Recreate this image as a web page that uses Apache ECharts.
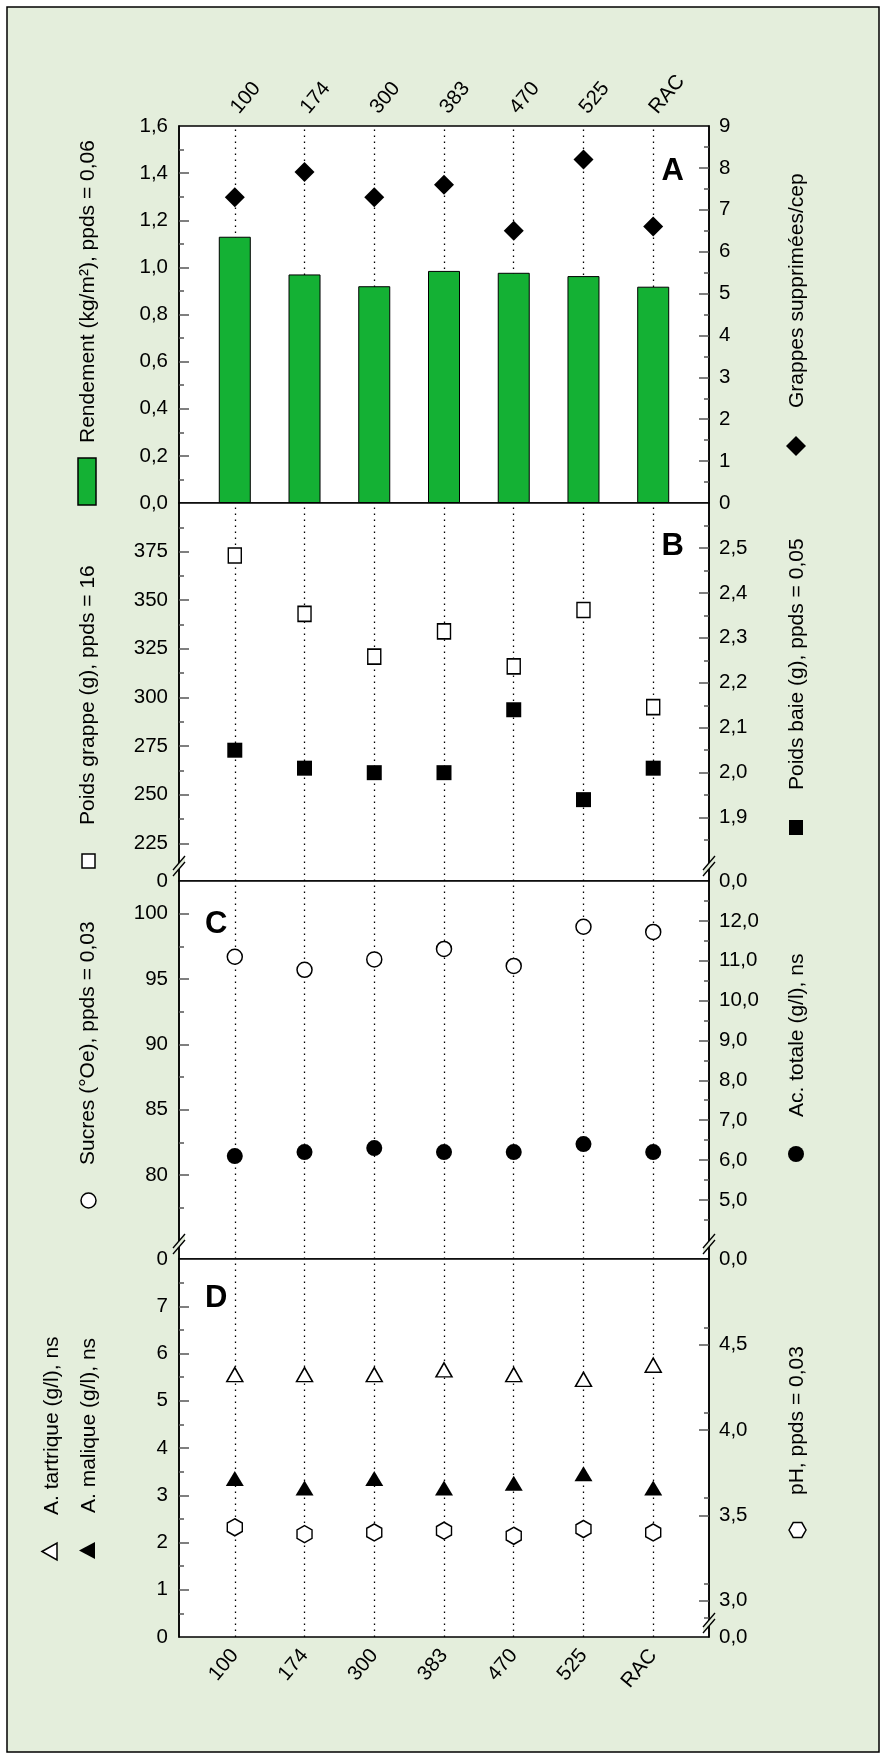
<!DOCTYPE html>
<html><head><meta charset="utf-8">
<script src="https://cdn.jsdelivr.net/npm/echarts@6/dist/echarts.min.js"></script>
<style>html,body{margin:0;padding:0;background:#fff}#c{width:887px;height:1758px}</style>
</head><body><div id="c"></div>
<script>
// ---------------- data ----------------
const categories = ['100', '174', '300', '383', '470', '525', 'RAC'];
const rendement = [1.13, 0.97, 0.92, 0.985, 0.977, 0.963, 0.918];
const grappesSupprimees = [7.3, 7.9, 7.3, 7.6, 6.5, 8.2, 6.6];
const poidsGrappe = [373, 343, 321, 334, 316, 345, 295];
const poidsBaie = [2.05, 2.01, 2.00, 2.00, 2.14, 1.94, 2.01];
const sucres = [96.7, 95.7, 96.5, 97.3, 96.0, 99.0, 98.6];
const acTotale = [6.1, 6.2, 6.3, 6.2, 6.2, 6.4, 6.2];
const tartrique = [5.5, 5.5, 5.5, 5.6, 5.5, 5.4, 5.7];
const malique = [3.3, 3.1, 3.3, 3.1, 3.2, 3.4, 3.1];
const pH = [3.43, 3.39, 3.40, 3.41, 3.38, 3.42, 3.40];

// tick values
const tickA_L = [0, 0.2, 0.4, 0.6, 0.8, 1.0, 1.2, 1.4, 1.6];
const tickA_R = [0, 1, 2, 3, 4, 5, 6, 7, 8, 9];
const tickB_L = [225, 250, 275, 300, 325, 350, 375];
const tickB_R = [1.9, 2.0, 2.1, 2.2, 2.3, 2.4, 2.5];
const tickC_L = [80, 85, 90, 95, 100];
const tickC_R = [5, 6, 7, 8, 9, 10, 11, 12];
const tickD_L = [0, 1, 2, 3, 4, 5, 6, 7];
const tickD_R = [3.0, 3.5, 4.0, 4.5];

// axis extents (broken axes: bottom of panel labelled 0)
const rangeA_L = [0, 1.6], rangeA_R = [0, 9];
const rangeB_L = [205.6, 400], rangeB_R = [1.759, 2.6];
const rangeC_L = [73.57, 102.5], rangeC_R = [3.517, 13];
const rangeD_L = [0, 8], rangeD_R = [2.788, 5];

// ---------------- layout ----------------
const FONT = '"Liberation Sans", Arial, Helvetica, sans-serif';
const LABEL_SIZE = 20.5;
const GL = 179, GW = 530;
const tops = [126, 503, 881, 1259];
const heights = [377, 378, 378, 378];
const xs = categories.map((_, i) => i + 1);
const pairs = arr => arr.map((v, i) => [xs[i], v]);

function minorsOf(majors, step, lo, hi) {
  const out = [];
  const all = [majors[0] - step].concat(majors.map(v => v + step));
  all.forEach(v => { if (v > lo + 1e-9 && v < hi - 1e-9) out.push(+v.toFixed(4)); });
  return out;
}
function fmt(dec, zeroAt) {
  return v => {
    if (zeroAt !== null && Math.abs(v - zeroAt) < 1e-6) return dec ? '0,0' : '0';
    return v.toFixed(dec).replace('.', ',');
  };
}
const yAxes = [];
function addY(g, pos, range, majors, minorStep, dec, broken) {
  const lo = range[0], hi = range[1];
  const labels = broken ? [lo].concat(majors) : majors;
  const tickVals = majors.filter(v => v > lo + 1e-9 && v < hi - 1e-9);
  yAxes.push({
    type: 'value', gridIndex: g, position: pos, min: lo, max: hi,
    axisLine: { show: true, lineStyle: { color: '#000', width: 1.5 } },
    axisTick: { show: true, inside: true, length: 10, customValues: tickVals, lineStyle: { color: '#555', width: 1.5 } },
    axisLabel: { show: true, customValues: labels, formatter: fmt(dec, broken ? lo : null), margin: pos === 'left' ? 11 : 10,
      fontSize: LABEL_SIZE, color: '#000', fontFamily: FONT },
    splitLine: { show: false }
  });
  yAxes.push({
    type: 'value', gridIndex: g, position: pos, min: lo, max: hi,
    axisLine: { show: false },
    axisTick: { show: true, inside: true, length: 5, customValues: minorsOf(majors, minorStep, broken ? lo + (hi - lo) * 0.05 : lo, hi), lineStyle: { color: '#555', width: 1.5 } },
    axisLabel: { show: false }, splitLine: { show: false }
  });
}
addY(0, 'left', rangeA_L, tickA_L, 0.1, 1, false);
addY(0, 'right', rangeA_R, tickA_R, 0.5, 0, false);
addY(1, 'left', rangeB_L, tickB_L, 12.5, 0, true);
addY(1, 'right', rangeB_R, tickB_R, 0.05, 1, true);
addY(2, 'left', rangeC_L, tickC_L, 2.5, 0, true);
addY(2, 'right', rangeC_R, tickC_R, 0.5, 1, true);
addY(3, 'left', rangeD_L, tickD_L, 0.5, 0, false);
addY(3, 'right', rangeD_R, tickD_R, 0.1, 1, true);

const grids = tops.map((t, i) => ({
  left: GL, width: GW, top: t, height: heights[i], show: true,
  backgroundColor: '#fff', borderColor: '#000', borderWidth: 1.5
}));
const xAxes = tops.map((t, i) => ({
  type: 'value', gridIndex: i, min: 0.2, max: 7.8,
  position: i === 0 ? 'top' : 'bottom',
  axisLine: { show: false }, axisTick: { show: false }, splitLine: { show: false },
  axisLabel: (i === 0 || i === 3) ? {
    show: true, customValues: xs, formatter: v => categories[Math.round(v) - 1],
    rotate: 50, margin: 15, fontSize: LABEL_SIZE, color: '#000', fontFamily: FONT
  } : { show: false }
}));

const dotted = {
  z: 1, silent: true, symbol: ['none', 'none'], label: { show: false }, animation: false,
  lineStyle: { type: [1.6, 4.4], color: '#000', width: 1.3 },
  emphasis: { disabled: true },
  data: xs.map(x => ({ xAxis: x }))
};
const hollow = { color: '#fff', borderColor: '#000', borderWidth: 1.5, opacity: 1 };
const solid = { color: '#000', opacity: 1 };
const hexPath = 'path://M0,-10L8.66,-5L8.66,5L0,10L-8.66,5L-8.66,-5Z';

const series = [
  { type: 'bar', xAxisIndex: 0, yAxisIndex: 0, data: pairs(rendement), barWidth: 32, z: 2,
    itemStyle: { color: '#14b134', borderColor: '#000', borderWidth: 1 }, markLine: dotted },
  { type: 'scatter', xAxisIndex: 0, yAxisIndex: 2, data: pairs(grappesSupprimees), symbol: 'diamond', symbolSize: [20, 20], itemStyle: solid, z: 3 },
  { type: 'scatter', xAxisIndex: 1, yAxisIndex: 4, data: pairs(poidsGrappe), symbol: 'rect', symbolSize: [13, 15], itemStyle: hollow, z: 3, markLine: dotted },
  { type: 'scatter', xAxisIndex: 1, yAxisIndex: 6, data: pairs(poidsBaie), symbol: 'rect', symbolSize: [15, 15], itemStyle: solid, z: 3 },
  { type: 'scatter', xAxisIndex: 2, yAxisIndex: 8, data: pairs(sucres), symbol: 'circle', symbolSize: 15, itemStyle: hollow, z: 3, markLine: dotted },
  { type: 'scatter', xAxisIndex: 2, yAxisIndex: 10, data: pairs(acTotale), symbol: 'circle', symbolSize: 16, itemStyle: solid, z: 3 },
  { type: 'scatter', xAxisIndex: 3, yAxisIndex: 12, data: pairs(tartrique), symbol: 'triangle', symbolSize: [16, 14], symbolOffset: [0, -2.5], itemStyle: hollow, z: 3, markLine: dotted },
  { type: 'scatter', xAxisIndex: 3, yAxisIndex: 12, data: pairs(malique), symbol: 'triangle', symbolSize: [18, 15], symbolOffset: [0, -2.5], itemStyle: solid, z: 3 },
  { type: 'scatter', xAxisIndex: 3, yAxisIndex: 14, data: pairs(pH), symbol: hexPath, symbolSize: [15, 17], itemStyle: hollow, z: 3 }
];

// ---------------- decorations ----------------
const TXT = '21px ' + FONT;
function vtext(x, y, text) {
  return { type: 'text', x: x, y: y, rotation: Math.PI / 2, z: 10,
    style: { text: text, fill: '#000', font: TXT, align: 'left', verticalAlign: 'middle' } };
}
function letter(x, y, t, align) {
  return { type: 'text', x: x, y: y, z: 10,
    style: { text: t, fill: '#000', font: 'bold 31px ' + FONT, align: align, verticalAlign: 'top' } };
}
function brk(cx, cy) {
  const st = { stroke: '#000', lineWidth: 1.3 };
  return [
    { type: 'polygon', z: 9, shape: { points: [[cx - 6, cy + 4], [cx + 6, cy - 10], [cx + 6, cy - 4], [cx - 6, cy + 10]] }, style: { fill: '#e4eedc' } },
    { type: 'line', z: 10, shape: { x1: cx - 6, y1: cy + 4, x2: cx + 6, y2: cy - 10 }, style: st },
    { type: 'line', z: 10, shape: { x1: cx - 6, y1: cy + 10, x2: cx + 6, y2: cy - 4 }, style: st }
  ];
}
const GR = GL + GW;
const bottoms = tops.map((t, i) => t + heights[i]);
const LX = 88, RX = 797.5;
const graphics = [
  { type: 'rect', z: -10, shape: { x: 7, y: 7, width: 872, height: 1745 }, style: { fill: '#e4eedc', stroke: '#000', lineWidth: 1.5 } },
  // panel A
  vtext(LX, 443, 'Rendement (kg/m²), ppds = 0,06'),
  { type: 'rect', z: 10, shape: { x: 78, y: 458, width: 18, height: 47 }, style: { fill: '#14b134', stroke: '#000', lineWidth: 1.5 } },
  vtext(RX, 408, 'Grappes supprimées/cep'),
  { type: 'polygon', z: 10, shape: { points: [[796, 436], [806, 446], [796, 456], [786, 446]] }, style: { fill: '#000' } },
  // panel B
  vtext(LX, 825, 'Poids grappe (g), ppds = 16'),
  { type: 'rect', z: 10, shape: { x: 82, y: 854, width: 13, height: 14 }, style: { fill: '#fff', stroke: '#000', lineWidth: 1.5 } },
  vtext(RX, 790, 'Poids baie (g), ppds = 0,05'),
  { type: 'rect', z: 10, shape: { x: 789, y: 820, width: 14, height: 15 }, style: { fill: '#000' } },
  // panel C
  vtext(LX, 1165, 'Sucres (°Oe), ppds = 0,03'),
  { type: 'circle', z: 10, shape: { cx: 88.5, cy: 1200.5, r: 7.5 }, style: { fill: '#fff', stroke: '#000', lineWidth: 1.5 } },
  vtext(RX, 1117, 'Ac. totale (g/l), ns'),
  { type: 'circle', z: 10, shape: { cx: 796, cy: 1154, r: 8 }, style: { fill: '#000' } },
  // panel D
  vtext(52.6, 1515, 'A. tartrique (g/l), ns'),
  vtext(88.8, 1513, 'A. malique (g/l), ns'),
  { type: 'polygon', z: 10, shape: { points: [[42, 1551.5], [57, 1543], [57, 1560]] }, style: { fill: '#fff', stroke: '#000', lineWidth: 1.5 } },
  { type: 'polygon', z: 10, shape: { points: [[79, 1550.5], [95, 1542], [95, 1559]] }, style: { fill: '#000' } },
  vtext(RX, 1495, 'pH, ppds = 0,03'),
  { type: 'polygon', z: 10, shape: { points: [[789, 1530], [793.2, 1522.6], [801.8, 1522.6], [806, 1530], [801.8, 1537.4], [793.2, 1537.4]] }, style: { fill: '#fff', stroke: '#000', lineWidth: 1.5 } },
  // panel letters
  letter(684, tops[0] + 30, 'A', 'right'),
  letter(684, tops[1] + 28, 'B', 'right'),
  letter(205, tops[2] + 28, 'C', 'left'),
  letter(205, tops[3] + 24, 'D', 'left')
].concat(
  brk(GL, bottoms[1] - 15), brk(GR, bottoms[1] - 15),
  brk(GL, bottoms[2] - 15), brk(GR, bottoms[2] - 15),
  brk(GR, bottoms[3] - 14)
);

const chart = echarts.init(document.getElementById('c'), null, { renderer: 'canvas' });
chart.setOption({
  animation: false,
  backgroundColor: '#fff',
  grid: grids, xAxis: xAxes, yAxis: yAxes, series: series,
  graphic: { elements: graphics }
});
</script></body></html>
